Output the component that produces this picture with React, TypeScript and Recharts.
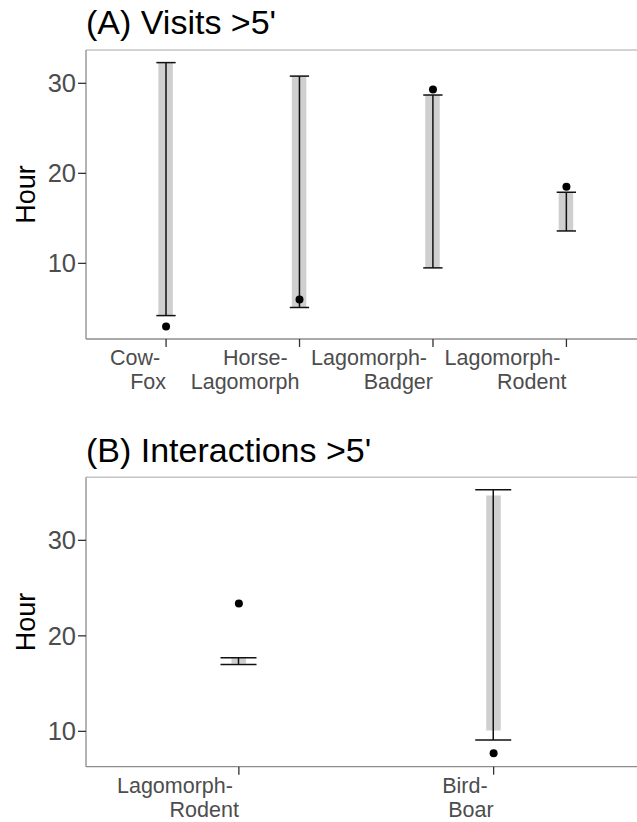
import { ComposedChart, Bar, Line, XAxis, YAxis, ReferenceLine } from "recharts";

// Panel A: visits > 5'
const categoriesA = ["Cow-Fox", "Horse-Lagomorph", "Lagomorph-Badger", "Lagomorph-Rodent"];
const tickLinesA = [
  ["Cow- ", "Fox"],
  ["Horse-  ", "Lagomorph"],
  ["Lagomorph- ", "Badger"],
  ["Lagomorph- ", "Rodent"],
];
const rangeLoA = [4.2, 5.1, 9.5, 13.6];
const rangeHiA = [32.3, 30.8, 28.7, 17.9];
const errLoA = [4.2, 5.1, 9.5, 13.6];
const errHiA = [32.3, 30.8, 28.7, 17.9];
const pointA = [3.0, 6.0, 29.3, 18.5];
const domainA: [number, number] = [1.6, 33.7];

// Panel B: interactions > 5'
const categoriesB = ["Lagomorph-Rodent", "Bird-Boar"];
const tickLinesB = [
  ["Lagomorph- ", "Rodent"],
  ["Bird- ", "Boar"],
];
const rangeLoB = [17.1, 10.1];
const rangeHiB = [17.7, 34.7];
const errLoB = [17.0, 9.1];
const errHiB = [17.7, 35.3];
const pointB = [23.4, 7.7];
const domainB: [number, number] = [6.3, 36.6];

const yTicks = [10, 20, 30];

const FONT = "'Liberation Sans', Arial, sans-serif";

function buildRows(cats: string[], rLo: number[], rHi: number[], eLo: number[], eHi: number[], pts: number[]) {
  return cats.map((name, i) => ({
    name,
    range: [rLo[i], rHi[i]],
    err: [eLo[i], eHi[i]],
    point: pts[i],
  }));
}

const ErrorShape = (props: any) => {
  const { x, y, width, height } = props;
  if (x == null || y == null) return null;
  const cx = x + width / 2;
  const top = Math.min(y, y + height);
  const bot = Math.max(y, y + height);
  return (
    <g stroke="#111" strokeWidth={1.5}>
      <line x1={cx} x2={cx} y1={top} y2={bot} />
      <line x1={x} x2={x + width} y1={top} y2={top} />
      <line x1={x} x2={x + width} y1={bot} y2={bot} />
    </g>
  );
};

function makeTick(cats: string[], lines: string[][]) {
  return (props: any) => {
    const { x, y, payload } = props;
    const idx = cats.indexOf(payload.value);
    const l = lines[idx] || [payload.value, ""];
    return (
      <g>
        <text x={x} y={y + 16} textAnchor="end" fill="#4d4d4d" fontSize={21.5} fontFamily={FONT} style={{ whiteSpace: "pre" }}>
          {l[0]}
        </text>
        <text x={x} y={y + 40} textAnchor="end" fill="#4d4d4d" fontSize={21.5} fontFamily={FONT} style={{ whiteSpace: "pre" }}>
          {l[1]}
        </text>
      </g>
    );
  };
}

interface PanelProps {
  rows: any[];
  cats: string[];
  lines: string[][];
  domain: [number, number];
  pad: number;
  capWidth: number;
  height: number;
  marginTop: number;
  marginBottom: number;
}

function Panel({ rows, cats, lines, domain, pad, capWidth, height, marginTop, marginBottom }: PanelProps) {
  return (
    <ComposedChart
      width={660}
      height={height}
      data={rows}
      margin={{ top: marginTop, right: 13.5, bottom: marginBottom, left: 0 }}
    >
      <ReferenceLine y={domain[1]} stroke="#c4c4c4" strokeWidth={1.5} />
      <XAxis
        dataKey="name"
        padding={{ left: pad, right: pad }}
        height={50}
        tickSize={8}
        tickMargin={2}
        stroke="#8c8c8c"
        axisLine={{ stroke: "#8c8c8c", strokeWidth: 1.3 }}
        tickLine={{ stroke: "#333", strokeWidth: 1.3 }}
        tick={makeTick(cats, lines)}
        interval={0}
      />
      <XAxis xAxisId="err" dataKey="name" hide padding={{ left: pad, right: pad }} />
      <YAxis
        type="number"
        domain={domain}
        allowDataOverflow
        ticks={yTicks}
        width={86}
        tickSize={8}
        tickMargin={2}
        axisLine={{ stroke: "#8c8c8c", strokeWidth: 1.3 }}
        tickLine={{ stroke: "#333", strokeWidth: 1.3 }}
        tick={{ fill: "#4d4d4d", fontSize: 25.5, fontFamily: FONT }}
        label={({ viewBox }: any) => {
          const cy = viewBox.y + viewBox.height / 2;
          return (
            <text
              x={35}
              y={cy}
              transform={`rotate(-90, 35, ${cy})`}
              textAnchor="middle"
              fontSize={27}
              fontFamily={FONT}
              fill="#000"
            >
              Hour
            </text>
          );
        }}
      />
      <Bar dataKey="range" fill="#cfcfcf" barSize={14.5} isAnimationActive={false} />
      <Bar xAxisId="err" dataKey="err" barSize={capWidth} shape={ErrorShape} isAnimationActive={false} />
      <Line
        dataKey="point"
        stroke="none"
        dot={{ r: 4, fill: "#000", stroke: "none" }}
        activeDot={false}
        isAnimationActive={false}
      />
    </ComposedChart>
  );
}

export default function App() {
  const rowsA = buildRows(categoriesA, rangeLoA, rangeHiA, errLoA, errHiA, pointA);
  const rowsB = buildRows(categoriesB, rangeLoB, rangeHiB, errLoB, errHiB, pointB);
  const titleStyle: React.CSSProperties = {
    position: "absolute",
    left: 86,
    fontSize: 34,
    lineHeight: "34px",
    fontFamily: FONT,
    color: "#000",
    whiteSpace: "pre",
  };
  return (
    <div
      style={{
        position: "absolute",
        left: 0,
        top: 0,
        width: 637,
        height: 822,
        overflow: "hidden",
        background: "#fff",
      }}
    >
      <div style={{ ...titleStyle, top: 5 }}>(A) Visits &gt;5'</div>
      <div style={{ position: "absolute", left: 0, top: 0 }}>
        <Panel rows={rowsA} cats={categoriesA} lines={tickLinesA} domain={domainA} pad={13.35} capWidth={19.3} height={420} marginTop={50} marginBottom={31} />
      </div>
      <div style={{ ...titleStyle, top: 433 }}>(B) Interactions &gt;5'</div>
      <div style={{ position: "absolute", left: 0, top: 430 }}>
        <Panel rows={rowsB} cats={categoriesB} lines={tickLinesB} domain={domainB} pad={25.5} capWidth={36} height={392} marginTop={47.3} marginBottom={5.3} />
      </div>
    </div>
  );
}
